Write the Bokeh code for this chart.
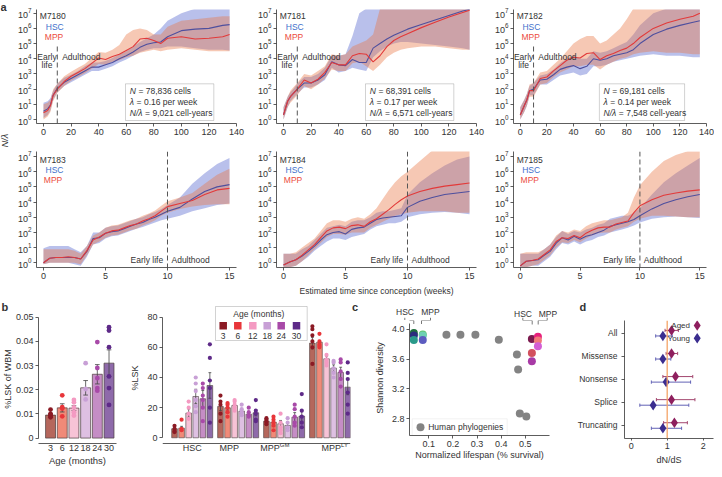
import math
from bokeh.plotting import figure
from bokeh.models import (Range1d, FixedTicker, Label, BoxAnnotation, Span,
                          NumeralTickFormatter)
from bokeh.layouts import column, row
from bokeh.embed import file_html
from bokeh.resources import INLINE

FONT = "Liberation Sans"
INK = "#333333"

# ====================== DATA ======================
# ---- panel a: log10(N/lambda) estimates, mean and band ----
weeks_long = [0, 3, 5, 7, 10, 15, 20, 25, 30, 35, 40, 45, 50, 55, 60, 65, 70, 75, 80, 85, 90, 100, 110, 120, 130, 135]
weeks_short = [0, 0.5, 1, 1.5, 2, 2.5, 3, 3.5, 4, 4.5, 5, 5.5, 6, 6.5, 7, 7.5, 8, 8.5, 9, 9.5, 10, 11, 12, 13, 14, 15]
adult_week = 10

m7180_hsc = [0.55, 0.7, 0.95, 1.6, 2.05, 2.45, 2.7, 2.95, 3.2, 3.45, 3.45, 3.6, 3.75, 4.0, 4.2, 4.45, 4.75, 4.95, 5.05, 5.1, 5.45, 5.85, 5.95, 6.0, 6.2, 6.25]
m7180_hsc_lo = [0.1, 0.3, 0.6, 1.3, 1.8, 2.2, 2.45, 2.7, 2.95, 3.2, 3.2, 3.35, 3.5, 3.75, 3.95, 4.2, 4.45, 4.6, 4.7, 4.7, 4.8, 4.8, 4.7, 4.6, 4.6, 4.55]
m7180_hsc_hi = [1.1, 1.2, 1.4, 1.9, 2.35, 2.75, 2.95, 3.2, 3.5, 3.75, 3.75, 3.85, 4.05, 4.3, 4.5, 4.8, 5.1, 5.35, 5.6, 6.0, 6.5, 7.0, 7.3, 7.3, 7.3, 7.3]
m7180_mpp = [0.45, 0.6, 0.9, 1.6, 2.0, 2.5, 2.85, 3.1, 3.35, 3.7, 4.05, 3.95, 4.15, 4.3, 4.55, 4.8, 5.3, 5.35, 5.2, 5.0, 5.35, 5.45, 5.3, 5.35, 5.45, 5.6]
m7180_mpp_lo = [0.0, 0.2, 0.5, 1.2, 1.75, 2.2, 2.55, 2.8, 3.05, 3.35, 3.65, 3.6, 3.8, 3.9, 4.1, 4.2, 4.4, 4.5, 4.6, 4.5, 4.6, 4.7, 4.6, 4.5, 4.5, 4.5]
m7180_mpp_hi = [1.0, 1.1, 1.3, 2.0, 2.35, 2.85, 3.15, 3.4, 3.65, 4.05, 4.45, 4.4, 4.6, 4.9, 5.6, 5.9, 6.0, 5.9, 5.6, 5.6, 6.1, 6.5, 6.6, 6.7, 6.8, 6.8]

m7181_hsc = [0.3, 1.2, 1.5, 1.7, 2.0, 2.4, 2.4, 2.6, 2.95, 3.8, 3.6, 3.55, 3.95, 3.75, 3.75, 4.7, 5.0, 5.3, 5.55, 5.75, 5.95, 6.25, 6.55, 6.85, 7.15, 7.25]
m7181_hsc_lo = [0.0, 0.8, 1.2, 1.4, 1.7, 2.1, 2.1, 2.3, 2.6, 3.4, 3.1, 3.2, 3.4, 3.3, 3.2, 4.1, 4.5, 4.8, 5.0, 5.1, 5.1, 5.0, 4.9, 4.8, 4.7, 4.6]
m7181_hsc_hi = [0.8, 1.5, 1.8, 2.0, 2.35, 2.8, 2.8, 3.0, 3.4, 4.2, 4.2, 4.3, 5.5, 7.0, 7.3, 7.3, 7.3, 7.3, 7.3, 7.3, 7.3, 7.3, 7.3, 7.3, 7.3, 7.3]
m7181_mpp = [0.3, 1.2, 1.5, 1.7, 2.0, 2.6, 2.4, 2.65, 3.1, 3.75, 3.6, 3.6, 4.2, 4.35, 4.3, 3.8, 4.2, 4.8, 5.2, 5.45, 5.65, 6.05, 6.4, 6.75, 7.05, 7.2]
m7181_mpp_lo = [0.0, 0.8, 1.1, 1.3, 1.6, 2.2, 2.0, 2.3, 2.7, 3.3, 3.2, 3.2, 3.7, 3.8, 3.5, 3.2, 3.6, 4.1, 4.4, 4.6, 4.7, 4.8, 4.8, 4.7, 4.6, 4.6]
m7181_mpp_hi = [0.8, 1.5, 1.9, 2.1, 2.4, 3.0, 2.9, 3.2, 3.5, 4.3, 4.2, 4.3, 4.8, 5.0, 5.2, 5.6, 7.3, 7.3, 7.3, 7.3, 7.3, 7.3, 7.3, 7.3, 7.3, 7.3]

m7182_hsc = [0.3, 0.9, 1.3, 1.9, 2.0, 2.6, 2.65, 2.95, 3.3, 3.45, 3.55, 3.35, 3.5, 4.0, 3.9, 4.0, 4.2, 4.3, 4.4, 4.6, 5.0, 5.6, 5.95, 6.2, 6.4, 6.5]
m7182_hsc_lo = [0.0, 0.5, 0.9, 1.6, 1.6, 2.3, 2.3, 2.6, 2.9, 3.0, 3.1, 2.9, 3.0, 3.5, 3.5, 3.6, 3.8, 3.9, 4.0, 4.1, 4.2, 4.3, 4.2, 4.2, 4.1, 4.1]
m7182_hsc_hi = [0.8, 1.3, 1.7, 2.2, 2.4, 2.9, 3.0, 3.3, 3.7, 4.0, 4.2, 4.0, 4.0, 4.5, 4.4, 4.5, 4.7, 4.9, 5.1, 5.6, 6.2, 7.0, 7.3, 7.3, 7.3, 7.3]
m7182_mpp = [0.3, 0.9, 1.3, 1.9, 1.9, 2.7, 2.8, 3.2, 3.55, 3.9, 4.1, 4.05, 4.35, 4.4, 3.95, 4.2, 4.35, 4.55, 4.7, 5.0, 5.4, 6.0, 6.35, 6.6, 6.8, 7.0]
m7182_mpp_lo = [0.0, 0.5, 0.9, 1.5, 1.5, 2.3, 2.4, 2.8, 3.1, 3.3, 3.5, 3.5, 3.6, 3.6, 3.3, 3.6, 3.8, 4.0, 4.1, 4.3, 4.4, 4.5, 4.4, 4.4, 4.3, 4.3]
m7182_mpp_hi = [0.8, 1.3, 1.7, 2.3, 2.4, 3.1, 3.2, 3.6, 4.0, 4.5, 5.0, 5.3, 5.5, 5.5, 5.0, 5.2, 5.6, 6.0, 6.6, 7.3, 7.3, 7.3, 7.3, 7.3, 7.3, 7.3]

m7183_hsc = [0.0, 0.3, 0.35, 0.35, 0.35, 0.35, 0.25, 0.75, 1.6, 1.65, 1.95, 2.05, 2.1, 2.25, 2.4, 2.55, 2.65, 2.85, 3.0, 3.2, 3.4, 3.65, 4.2, 4.7, 5.0, 5.15]
m7183_hsc_lo = [-0.1, 0.0, 0.0, 0.0, 0.0, -0.1, -0.2, 0.4, 1.2, 1.3, 1.6, 1.75, 1.8, 1.95, 2.1, 2.25, 2.35, 2.5, 2.65, 2.8, 2.9, 3.1, 3.4, 3.6, 3.8, 3.9]
m7183_hsc_hi = [0.95, 1.1, 1.1, 1.1, 1.1, 0.9, 0.7, 1.1, 2.0, 2.0, 2.3, 2.4, 2.45, 2.6, 2.75, 2.9, 3.0, 3.2, 3.35, 3.55, 3.8, 4.3, 5.2, 5.9, 6.5, 6.9]
m7183_mpp = [0.0, 0.3, 0.35, 0.35, 0.4, 0.35, 0.25, 0.8, 1.5, 1.7, 1.95, 2.1, 2.15, 2.3, 2.45, 2.55, 2.75, 2.9, 3.1, 3.4, 3.7, 3.9, 4.1, 4.5, 4.8, 4.9]
m7183_mpp_lo = [-0.1, 0.0, 0.0, 0.0, 0.0, 0.0, -0.1, 0.5, 1.2, 1.4, 1.65, 1.8, 1.85, 2.0, 2.15, 2.25, 2.45, 2.6, 2.8, 3.1, 3.3, 3.55, 3.7, 3.8, 3.85, 3.85]
m7183_mpp_hi = [0.9, 0.9, 0.9, 0.9, 0.9, 0.8, 0.6, 1.1, 1.8, 2.0, 2.3, 2.45, 2.5, 2.65, 2.8, 2.9, 3.1, 3.25, 3.45, 3.75, 4.05, 4.3, 4.6, 5.2, 5.8, 6.2]

m7184_hsc = [-0.15, 0.05, 0.2, 0.45, 0.75, 1.1, 1.5, 1.85, 2.0, 2.05, 1.9, 2.2, 2.3, 2.35, 2.6, 2.85, 2.95, 3.0, 3.05, 3.1, 3.65, 4.05, 4.3, 4.5, 4.6, 4.7]
m7184_hsc_lo = [-0.3, -0.3, -0.2, 0.1, 0.4, 0.8, 1.1, 1.4, 1.6, 1.6, 1.5, 1.7, 1.8, 1.9, 2.2, 2.4, 2.5, 2.6, 2.6, 2.7, 3.0, 3.2, 3.3, 3.35, 3.3, 3.2]
m7184_hsc_hi = [0.6, 0.6, 0.6, 0.9, 1.1, 1.5, 1.9, 2.3, 2.4, 2.5, 2.4, 2.7, 2.8, 2.8, 3.0, 3.3, 3.4, 3.4, 3.5, 3.6, 4.5, 5.3, 5.9, 6.4, 6.8, 7.0]
m7184_mpp = [-0.15, 0.05, 0.2, 0.5, 0.85, 1.2, 1.65, 2.1, 2.3, 2.35, 2.25, 2.45, 2.5, 2.4, 2.7, 2.9, 3.2, 3.5, 3.85, 4.15, 4.4, 4.7, 4.9, 5.05, 5.15, 5.25]
m7184_mpp_lo = [-0.3, -0.3, -0.2, 0.1, 0.5, 0.9, 1.3, 1.7, 1.9, 1.9, 1.85, 2.0, 2.0, 2.0, 2.3, 2.5, 2.7, 2.9, 3.1, 3.2, 3.3, 3.4, 3.4, 3.4, 3.3, 3.3]
m7184_mpp_hi = [0.6, 0.6, 0.7, 1.0, 1.3, 1.6, 2.1, 2.6, 2.8, 2.8, 2.7, 2.9, 3.0, 2.9, 3.2, 3.6, 4.2, 4.8, 5.3, 5.7, 6.0, 6.7, 7.4, 7.4, 7.4, 7.4]

m7185_hsc = [-0.2, 0.1, 0.15, 0.2, 0.5, 0.75, 1.3, 1.65, 1.5, 1.75, 1.55, 1.75, 1.85, 2.0, 2.15, 2.4, 2.5, 2.6, 2.7, 2.85, 3.1, 3.55, 3.9, 4.15, 4.35, 4.5]
m7185_hsc_lo = [-0.3, -0.3, -0.2, -0.2, 0.1, 0.4, 0.9, 1.3, 1.2, 1.4, 1.2, 1.4, 1.5, 1.7, 1.8, 2.0, 2.1, 2.2, 2.3, 2.45, 2.65, 2.9, 3.0, 3.05, 3.0, 2.95]
m7185_hsc_hi = [0.6, 0.6, 0.6, 0.6, 0.9, 1.2, 1.7, 2.1, 1.9, 2.1, 2.0, 2.2, 2.3, 2.5, 2.6, 2.9, 3.0, 3.1, 3.1, 3.3, 3.6, 4.5, 5.3, 5.9, 6.4, 6.9]
m7185_mpp = [-0.2, 0.1, 0.15, 0.25, 0.55, 0.85, 1.4, 1.65, 1.6, 1.8, 1.65, 1.95, 2.15, 2.3, 2.35, 2.35, 2.55, 2.65, 2.75, 3.3, 3.75, 4.15, 4.45, 4.6, 4.72, 4.8]
m7185_mpp_lo = [-0.3, -0.3, -0.2, -0.1, 0.2, 0.5, 1.0, 1.35, 1.3, 1.5, 1.35, 1.6, 1.8, 1.95, 2.0, 2.0, 2.2, 2.3, 2.4, 2.7, 2.9, 3.1, 3.1, 3.05, 3.0, 3.0]
m7185_mpp_hi = [0.6, 0.7, 0.7, 0.7, 0.9, 1.2, 1.8, 2.1, 2.0, 2.2, 2.1, 2.4, 2.6, 2.7, 2.8, 2.8, 2.9, 3.0, 3.3, 4.3, 5.1, 6.0, 6.7, 7.1, 7.35, 7.35]

top_mice = ["M7180", "M7181", "M7182"]
top_cells = ["78,836", "68,391", "69,181"]
top_lambda = ["0.16", "0.17", "0.14"]
top_cell_years = ["9,021", "6,571", "7,548"]
bottom_mice = ["M7183", "M7184", "M7185"]

# ---- panel b ----
ages = ["3", "6", "12", "18", "24", "30"]
lsk_wbm_mean = [0.0095, 0.0125, 0.0124, 0.0208, 0.0264, 0.031]
lsk_wbm_se = [0.0007, 0.0017, 0.001, 0.003, 0.004, 0.0055]
lsk_wbm_pts = [[0.0118, 0.0100, 0.0095, 0.0093, 0.0086],
               [0.0177, 0.0128, 0.0122, 0.0090],
               [0.0158, 0.0148, 0.0127, 0.0107, 0.0093],
               [0.031, 0.0203, 0.016],
               [0.0397, 0.029, 0.0248, 0.0207, 0.0196],
               [0.0459, 0.0445, 0.0376, 0.0255, 0.0207, 0.0137]]

lsk_groups = ["HSC", "MPP", "MPP", "MPP"]
lsk_group_sup = ["", "", "GM", "LY"]
pct_mean = [[6.0, 6.4, 16.4, 27.4, 25.9, 34.7],
            [20.8, 19.9, 21.4, 17.7, 15.7, 16.6],
            [11.0, 10.4, 9.3, 8.2, 13.7, 14.4],
            [62.8, 63.4, 52.4, 46.2, 43.3, 33.6]]
pct_se = [[1.0, 1.2, 2.8, 4.8, 5.5, 8.5],
          [2.8, 1.5, 1.2, 1.3, 1.2, 2.0],
          [1.0, 1.6, 2.2, 2.0, 3.0, 3.8],
          [3.8, 1.2, 1.8, 2.2, 3.5, 5.0]]
pct_pts = [
    [[8, 6, 4.4, 3.8], [12, 6, 5], [24, 20, 16, 12.6], [40, 36, 31, 25, 21, 17], [36, 33, 28, 25, 20, 11], [62, 53, 38, 33, 20, 10]],
    [[28, 24, 22, 16, 11], [23, 22, 20, 17, 14], [25, 24, 22, 20, 18], [22, 19, 17, 15], [20, 17, 15, 14], [25, 18, 16, 12, 11]],
    [[13, 12, 11, 10, 9], [14, 12, 10, 8, 5], [16, 10, 7, 5, 3], [13, 10, 7, 5], [22, 19, 14, 10, 8], [29, 18, 14, 10, 7]],
    [[74, 72, 68, 64, 60, 49], [69, 64, 62, 61, 60], [62, 55, 52, 50, 48], [51, 50, 46, 43, 40], [52, 50, 44, 39, 34], [50, 43, 39, 30, 22, 16]],
]

# ---- panel c ----
human_lifespan = [0.173, 0.231, 0.293, 0.39, 0.465, 0.47, 0.477, 0.504]
human_diversity = [3.924, 3.924, 3.924, 3.86, 3.66, 3.46, 2.87, 2.83]
mouse_lifespan = [0.038, 0.038, 0.038, 0.075, 0.075, 0.075, 0.527, 0.527, 0.527, 0.552, 0.552, 0.552]
mouse_diversity = [3.95, 3.915, 3.857, 3.93, 3.915, 3.857, 3.87, 3.68, 3.57, 3.90, 3.85, 3.77]
mouse_colors = ["#1f6e3c", "#2b2c7e", "#2a9a8a", "#5cc46a", "#6fd0b4", "#5c5cc0",
                "#7b1a4e", "#d2505e", "#a83aa6", "#e8207c", "#f27a7a", "#d45ed4"]

# ---- panel d ----
dnds_cats = ["All", "Missense", "Nonsense", "Splice", "Truncating"]
aged_dnds = [1.12, 1.12, 1.23, 1.12, 1.2]
aged_lo = [0.94, 0.97, 0.88, 0.7, 0.9]
aged_hi = [1.31, 1.29, 1.71, 1.77, 1.56]
young_dnds = [0.88, 0.88, 0.97, 0.61, 0.88]
young_lo = [0.68, 0.68, 0.56, 0.24, 0.56]
young_hi = [1.14, 1.1, 1.65, 1.6, 1.4]
neutral_dnds = 1

# ====================== STYLE ======================
HSC_LINE = "#4e4f9e"
MPP_LINE = "#e23a3a"
HSC_BAND = "#5061cd"
MPP_BAND = "#e87543"
BAND_ALPHA = 0.4
HSC_TXT = "#3f6fcb"
MPP_TXT = "#ec4a3c"
AGE_DOT = ["#8b1a24", "#e8363a", "#f49ac2", "#c8a0d6", "#a84aa8", "#5e2a88"]
AGE_BAR = ["#b5675c", "#f08a78", "#f7c3d6", "#dec0e2", "#c58dc5", "#8e6aaa"]
BAR_EDGE = "#4a3c3c"
ERR = "#444444"
AGED = "#8e1f5e"
YOUNG = "#3b2d8f"
AGED_ERR = "#a3476f"
YOUNG_ERR = "#6262b5"


class Geo:
    """Frame box on the page (left, top, width, height) and its data ranges."""
    def __init__(self, fx, fy, fw, fh, xr, yr, ylog=False):
        self.fx, self.fy, self.fw, self.fh = fx, fy, fw, fh
        self.xr, self.yr, self.ylog = xr, yr, ylog

    def x(self, px):
        x0, x1 = self.xr
        return x0 + (px - self.fx) / self.fw * (x1 - x0)

    def y(self, py):
        y0, y1 = self.yr
        f = (self.fy + self.fh - py) / self.fh
        v = y0 + f * (y1 - y0)
        return 10 ** v if self.ylog else v


def make_fig(g, bl, br, bt, bb):
    if g.ylog:
        yr = Range1d(10 ** g.yr[0], 10 ** g.yr[1])
    else:
        yr = Range1d(*g.yr)
    p = figure(frame_width=g.fw, frame_height=g.fh, x_range=Range1d(*g.xr), y_range=yr,
               y_axis_type="log" if g.ylog else "linear", title=None,
               output_backend="svg", toolbar_location=None, frame_align=False,
               min_border_left=bl, min_border_right=br,
               min_border_top=bt, min_border_bottom=bb)
    p.outline_line_color = None
    p.xgrid.visible = False
    p.ygrid.visible = False
    return p


def gutter(x0, y0, w, h):
    p = figure(frame_width=w, frame_height=h, x_range=Range1d(x0, x0 + w),
               y_range=Range1d(y0 + h, y0), title=None, output_backend="svg",
               toolbar_location=None, frame_align=False,
               x_axis_location=None, y_axis_location=None,
               min_border_left=0, min_border_right=0, min_border_top=0, min_border_bottom=0)
    p.outline_line_color = None
    p.xgrid.visible = False
    p.ygrid.visible = False
    return p


def style_axes(p, tick_out=3, standoff=2, size="9px"):
    for ax in p.axis:
        ax.axis_line_color = INK
        ax.axis_line_width = 0.8
        ax.major_tick_line_color = INK
        ax.major_tick_line_width = 0.8
        ax.major_tick_out = tick_out
        ax.major_tick_in = 0
        ax.minor_tick_line_color = None
        ax.major_label_text_font = FONT
        ax.major_label_text_font_size = size
        ax.major_label_text_color = INK
        ax.major_label_standoff = standoff
        ax.axis_label_text_font = FONT
        ax.axis_label_text_font_style = "normal"
        ax.axis_label_text_color = INK
        ax.axis_label_text_font_size = "9px"


def lab(p, x, y, text, size="8.5px", color=INK, align="left", baseline="middle",
        style="normal", angle=0.0, x_offset=0):
    p.add_layout(Label(x=x, y=y, text=text, text_font=FONT, text_font_size=size,
                       text_color=color, text_align=align, text_baseline=baseline,
                       text_font_style=style, angle=angle, x_offset=x_offset))


def band_panel(g, bl, br, bt, bb, xs, series, xticks):
    p = make_fig(g, bl, br, bt, bb)
    hsc, hlo, hhi, mpp, mlo, mhi = [[10 ** v for v in s] for s in series]
    p.varea(x=xs, y1=hlo, y2=hhi, fill_color=HSC_BAND, fill_alpha=BAND_ALPHA)
    p.varea(x=xs, y1=mlo, y2=mhi, fill_color=MPP_BAND, fill_alpha=BAND_ALPHA)
    p.line(x=xs, y=hsc, line_color=HSC_LINE, line_width=1.1)
    p.line(x=xs, y=mpp, line_color=MPP_LINE, line_width=1.1)
    p.xaxis.ticker = FixedTicker(ticks=xticks)
    p.yaxis.ticker = FixedTicker(ticks=[10 ** k for k in range(8)])
    style_axes(p)
    return p


# ====================== PANEL a ======================
top_series = [
    [m7180_hsc, m7180_hsc_lo, m7180_hsc_hi, m7180_mpp, m7180_mpp_lo, m7180_mpp_hi],
    [m7181_hsc, m7181_hsc_lo, m7181_hsc_hi, m7181_mpp, m7181_mpp_lo, m7181_mpp_hi],
    [m7182_hsc, m7182_hsc_lo, m7182_hsc_hi, m7182_mpp, m7182_mpp_lo, m7182_mpp_hi],
]
bottom_series = [
    [m7183_hsc, m7183_hsc_lo, m7183_hsc_hi, m7183_mpp, m7183_mpp_lo, m7183_mpp_hi],
    [m7184_hsc, m7184_hsc_lo, m7184_hsc_hi, m7184_mpp, m7184_mpp_lo, m7184_mpp_hi],
    [m7185_hsc, m7185_hsc_lo, m7185_hsc_hi, m7185_mpp, m7185_mpp_lo, m7185_mpp_hi],
]
# frame left, frame width, border left, border right
col_geo = [(36, 200, 27, 12), (276, 200, 28, 12), (513, 193, 25, 8)]

G1 = gutter(0, 0, 9, 148)
lab(G1, 0, 6, "a", size="11px", style="bold")
lab(G1, 4.5, 140, "N/λ", size="9px", style="italic", align="center", angle=math.pi / 2)

ref_top = Geo(36, 9, 200, 114, (-5.08, 140), (-0.263, 7.2436), True)
top_figs = [G1]
for i in range(3):
    fx, fw, bl, br = col_geo[i]
    g = Geo(fx, 9, fw, 114, (-5.08, 140), (-0.263, 7.2436), True)
    p = band_panel(g, bl, br, 9, 25, weeks_long, top_series[i], [0, 20, 40, 60, 80, 100, 120, 140])
    r = ref_top
    p.segment(x0=[adult_week], y0=[r.y(123)], x1=[adult_week], y1=[r.y(43.3)],
              line_color="#555555", line_dash="5 3", line_width=1)
    lab(p, r.x(39.3), r.y(15.7), top_mice[i])
    lab(p, r.x(45.3), r.y(26), "HSC", color=HSC_TXT)
    lab(p, r.x(44.3), r.y(36), "MPP", color=MPP_TXT)
    lab(p, r.x(46.5), r.y(56), "Early", align="center")
    lab(p, r.x(46.5), r.y(64.3), "life", align="center")
    lab(p, r.x(61.7), r.y(56), "Adulthood")
    p.add_layout(BoxAnnotation(left=r.x(125), right=r.x(213.3), top=r.y(83.3), bottom=r.y(120),
                               fill_color="white", fill_alpha=1.0,
                               line_color="#444444", line_width=0.8))
    tx = r.x(129.3)
    lab(p, tx, r.y(90), "N", style="italic")
    lab(p, tx, r.y(90), "= " + top_cells[i] + " cells", x_offset=8.6)
    lab(p, tx, r.y(101), "λ", style="italic")
    lab(p, tx, r.y(101), "= " + top_lambda[i] + " per week", x_offset=6.8)
    lab(p, tx, r.y(112.3), "N/λ", style="italic")
    lab(p, tx, r.y(112.3), "= " + top_cell_years[i] + " cell-years", x_offset=15.3)
    top_figs.append(p)

ref_bot = Geo(36, 151, 200, 116, (-0.5645, 15.565), (-0.3095, 7.329), True)
bottom_figs = []
for i in range(3):
    fx, fw, bl, br = col_geo[i]
    if i == 0:
        bl = 36
    g = Geo(fx, 151, fw, 116, (-0.5645, 15.565), (-0.3095, 7.329), True)
    p = band_panel(g, bl, br, 3, 31, weeks_short, bottom_series[i], [0, 5, 10, 15])
    r = ref_bot
    p.add_layout(Span(location=adult_week, dimension="height", line_color="#555555",
                      line_dash="5 3", line_width=1))
    lab(p, r.x(39.3), r.y(159), bottom_mice[i])
    lab(p, r.x(45), r.y(169), "HSC", color=HSC_TXT)
    lab(p, r.x(43.3), r.y(179), "MPP", color=MPP_TXT)
    lab(p, r.x(162.7), r.y(259), "Early life", align="right")
    lab(p, r.x(171), r.y(259), "Adulthood")
    if i == 1:
        p.xaxis.axis_label = "Estimated time since conception (weeks)"
        p.xaxis.axis_label_standoff = 4
        p.xaxis.axis_label_text_font_size = "8.5px"
    bottom_figs.append(p)

# ====================== PANEL b (left) ======================
G3 = gutter(0, 298, 12, 169)
lab(G3, 1, 306, "b", size="11px", style="bold")
lab(G3, 7, 378.5, "%LSK of WBM", size="9px", align="center", angle=math.pi / 2)

g = Geo(37, 312, 78, 131, (-1.03, 5.64), (-0.00224, 0.05195))
pb1 = make_fig(g, 25, 11, 14, 24)
xi = list(range(len(ages)))
pb1.vbar(x=xi, top=lsk_wbm_mean, width=0.85, fill_color=AGE_BAR,
         line_color=BAR_EDGE, line_width=0.7)
lo = [m - s for m, s in zip(lsk_wbm_mean, lsk_wbm_se)]
hi = [m + s for m, s in zip(lsk_wbm_mean, lsk_wbm_se)]
pb1.segment(x0=xi, y0=lo, x1=xi, y1=hi, line_color=ERR, line_width=0.8)
pb1.segment(x0=[x - 0.2 for x in xi], y0=hi, x1=[x + 0.2 for x in xi], y1=hi, line_color=ERR, line_width=0.8)
pb1.segment(x0=[x - 0.2 for x in xi], y0=lo, x1=[x + 0.2 for x in xi], y1=lo, line_color=ERR, line_width=0.8)
dx, dy, dc = [], [], []
for i, pts in enumerate(lsk_wbm_pts):
    for v in pts:
        dx.append(i)
        dy.append(v)
        dc.append(AGE_DOT[i])
pb1.scatter(x=dx, y=dy, size=4.8, fill_color=dc, line_color=None)
pb1.xaxis.ticker = FixedTicker(ticks=xi)
pb1.xaxis.major_label_overrides = {i: a for i, a in enumerate(ages)}
pb1.yaxis.ticker = FixedTicker(ticks=[0, 0.01, 0.02, 0.03, 0.04, 0.05])
pb1.yaxis.formatter = NumeralTickFormatter(format="0.[00]")
pb1.yaxis.bounds = (0, 0.05)
style_axes(pb1)
pb1.xaxis.major_tick_out = 0
pb1.xaxis.major_label_standoff = 1
pb1.xaxis.axis_label = "Age (months)"
pb1.xaxis.axis_label_standoff = 1
pb1.xaxis.axis_label_text_font_size = "9.5px"

# ====================== PANEL b (right) ======================
g = Geo(157, 304, 188, 147, (-1.70, 24.89), (-9.09, 88.42))
pb2 = make_fig(g, 31, 1, 6, 16)
group_step = 6.5
bx, btop, bcol, elo, ehi = [], [], [], [], []
dx, dy, dc = [], [], []
for gi in range(len(lsk_groups)):
    for ai in range(len(ages)):
        x = gi * group_step + ai
        bx.append(x)
        btop.append(pct_mean[gi][ai])
        bcol.append(AGE_BAR[ai])
        elo.append(pct_mean[gi][ai] - pct_se[gi][ai])
        ehi.append(pct_mean[gi][ai] + pct_se[gi][ai])
        for v in pct_pts[gi][ai]:
            dx.append(x)
            dy.append(v)
            dc.append(AGE_DOT[ai])
pb2.add_layout(BoxAnnotation(left=g.x(210), right=g.x(301.7), top=g.y(306), bottom=g.y(340),
                             fill_color="white", fill_alpha=1.0, line_color="#444444",
                             line_width=0.8, level="underlay"))
pb2.vbar(x=bx, top=btop, width=0.8, fill_color=bcol, line_color=BAR_EDGE, line_width=0.6)
pb2.segment(x0=bx, y0=elo, x1=bx, y1=ehi, line_color=ERR, line_width=0.8)
pb2.segment(x0=[x - 0.2 for x in bx], y0=ehi, x1=[x + 0.2 for x in bx], y1=ehi, line_color=ERR, line_width=0.8)
pb2.segment(x0=[x - 0.2 for x in bx], y0=elo, x1=[x + 0.2 for x in bx], y1=elo, line_color=ERR, line_width=0.8)
pb2.scatter(x=dx, y=dy, size=4.2, fill_color=dc, line_color=None)
label_px = [186.7, 223.7, 264.5, 325.8]
label_pos = [g.x(v) for v in label_px]
pb2.xaxis.ticker = FixedTicker(ticks=label_pos)
pb2.xaxis.major_label_overrides = {pos_: t for pos_, t in zip(label_pos, lsk_groups)}
pb2.xaxis.fixed_location = g.y(442.7)
pb2.yaxis.ticker = FixedTicker(ticks=[0, 20, 40, 60, 80])
pb2.yaxis.bounds = (0, 80)
style_axes(pb2)
pb2.xaxis.major_tick_out = 0
pb2.xaxis.major_label_standoff = 0
pb2.yaxis.axis_label = "%LSK"
pb2.yaxis.axis_label_standoff = 4
lab(pb2, g.x(274.3), g.y(444.5), lsk_group_sup[2], size="6px")
lab(pb2, g.x(335.5), g.y(444.5), lsk_group_sup[3], size="6px")
lab(pb2, g.x(253.3), g.y(313.7), "Age (months)", size="8.5px", align="center")
leg_px = [217.7, 232.3, 247.3, 261.7, 275.7, 291]
pb2.scatter(x=[g.x(v) for v in leg_px], y=[g.y(325.3)] * len(leg_px), marker="square",
            size=7.5, fill_color=AGE_DOT, line_color=None)
for k, a in enumerate(ages):
    lab(pb2, g.x(leg_px[k]), g.y(335), a, size="8.5px", align="center")

# ====================== PANEL c ======================
Gc = gutter(346, 298, 10, 169)
lab(Gc, 346.5, 306, "c", size="11px", style="bold")

brackets = [
    [(399.3, 317.3), (399.3, 320), (408.3, 320), (408.3, 323.5)],
    [(416, 323.5), (416, 320), (425, 320), (425, 317.3)],
    [(517.3, 317.3), (517.3, 320), (526.7, 320), (526.7, 324)],
    [(532.7, 324), (532.7, 320), (541.7, 320), (541.7, 317.3)],
]
# strip above panel c carrying the HSC / MPP group annotations
Sc = gutter(356, 298, 197, 22)
Sc.multi_line(xs=[[a for a, b in br] for br in brackets], ys=[[b for a, b in br] for br in brackets],
              line_color="#555555", line_width=0.8)
lab(Sc, 399.5, 311.7, "HSC", size="8.5px", align="center")
lab(Sc, 425, 311.7, "MPP", size="8.5px", align="center")
lab(Sc, 517.5, 313.5, "HSC", size="8.5px", align="center")
lab(Sc, 542.5, 313.5, "MPP", size="8.5px", align="center")

g = Geo(404, 320, 140, 115, (0.02, 0.6), (2.5763, 4.1165))
pc = make_fig(g, 48, 9, 0, 32)
pc.add_layout(BoxAnnotation(left=g.x(406.7), right=g.x(501.7), top=g.y(418.3), bottom=g.y(435),
                            fill_color="white", fill_alpha=1.0, line_color="#c8c8c8",
                            line_width=0.8, level="underlay"))
pc.multi_line(xs=[[g.x(a) for a, b in br] for br in brackets],
              ys=[[g.y(b) for a, b in br] for br in brackets],
              line_color="#555555", line_width=0.8)
pc.scatter(x=human_lifespan, y=human_diversity, size=8, fill_color="#838383", line_color=None)
pc.scatter(x=mouse_lifespan, y=mouse_diversity, size=8, fill_color=mouse_colors, line_color=None)
pc.scatter(x=[g.x(415)], y=[g.y(426.7)], size=8, fill_color="#838383", line_color=None)
lab(pc, g.x(422.7), g.y(426.7), "Human phylogenies", size="8.5px")
pc.xaxis.ticker = FixedTicker(ticks=[0.1, 0.2, 0.3, 0.4, 0.5])
pc.xaxis.formatter = NumeralTickFormatter(format="0.0")
pc.yaxis.ticker = FixedTicker(ticks=[2.8, 3.2, 3.6, 4.0])
pc.yaxis.formatter = NumeralTickFormatter(format="0.0")
pc.yaxis.bounds = (2.5763, 4.072)
style_axes(pc)
pc.xaxis.axis_label = "Normalized lifespan (% survival)"
pc.xaxis.axis_label_standoff = 0
pc.yaxis.axis_label = "Shannon diversity"
pc.yaxis.axis_label_standoff = 4

# ====================== PANEL d ======================
Gd = gutter(553, 298, 161, 16)
lab(Gd, 574, 306, "d", size="11px", style="bold")

g = Geo(619, 320, 89, 118, (-0.186, 2.286), (-0.5634, 4.55))
pd_ = make_fig(g, 66, 6, 6, 29)
pd_.add_layout(Span(location=neutral_dnds, dimension="height", line_color="#f5a467", line_width=1.3))
pos = [len(dnds_cats) - 1 - k for k in range(len(dnds_cats))]
ya = [v + 0.12 for v in pos]
yy = [v - 0.12 for v in pos]
cap = 0.07
pd_.segment(x0=aged_lo, y0=ya, x1=aged_hi, y1=ya, line_color=AGED_ERR, line_width=1)
pd_.segment(x0=aged_lo, y0=[v - cap for v in ya], x1=aged_lo, y1=[v + cap for v in ya], line_color=AGED_ERR, line_width=1)
pd_.segment(x0=aged_hi, y0=[v - cap for v in ya], x1=aged_hi, y1=[v + cap for v in ya], line_color=AGED_ERR, line_width=1)
pd_.segment(x0=young_lo, y0=yy, x1=young_hi, y1=yy, line_color=YOUNG_ERR, line_width=1)
pd_.segment(x0=young_lo, y0=[v - cap for v in yy], x1=young_lo, y1=[v + cap for v in yy], line_color=YOUNG_ERR, line_width=1)
pd_.segment(x0=young_hi, y0=[v - cap for v in yy], x1=young_hi, y1=[v + cap for v in yy], line_color=YOUNG_ERR, line_width=1)
pd_.scatter(x=aged_dnds, y=ya, marker="diamond", size=10.5, fill_color=AGED, line_color=None)
pd_.scatter(x=young_dnds, y=yy, marker="diamond", size=10.5, fill_color=YOUNG, line_color=None)
pd_.scatter(x=[g.x(691.7), g.x(691.7)], y=[g.y(325), g.y(337.7)], marker="diamond", size=10.5,
            fill_color=[AGED, YOUNG], line_color=None)
lab(pd_, g.x(684.5), g.y(325), "Aged", size="8px", align="right")
lab(pd_, g.x(684.5), g.y(337.7), "Young", size="8px", align="right")
pd_.xaxis.ticker = FixedTicker(ticks=[0, 1, 2])
pd_.yaxis.ticker = FixedTicker(ticks=pos)
pd_.yaxis.major_label_overrides = {p_: c for p_, c in zip(pos, dnds_cats)}
style_axes(pd_)
pd_.yaxis.major_label_text_font_size = "8.5px"
pd_.yaxis.major_label_standoff = 4
pd_.xaxis.major_tick_out = 2
pd_.xaxis.axis_label = "dN/dS"
pd_.xaxis.axis_label_standoff = 3

layout = column(row(*top_figs), row(*bottom_figs),
                row(G3, pb1, pb2, Gc, column(Sc, pc), column(Gd, pd_)))

with open("out.html", "w") as f:
    f.write(file_html(layout, INLINE, title="chart"))
